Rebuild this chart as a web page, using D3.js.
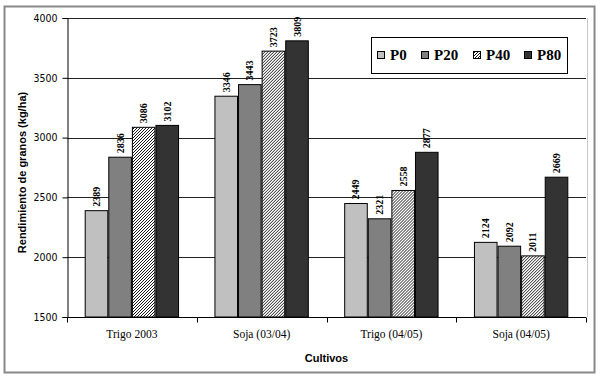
<!DOCTYPE html>
<html><head><meta charset="utf-8">
<script src="https://cdn.jsdelivr.net/npm/d3@7"></script>
<style>body{margin:0;background:#fff}svg{display:block}</style>
</head><body>
<svg id="c" width="600" height="378"></svg>
<script>
const categories = ["Trigo 2003", "Soja (03/04)", "Trigo (04/05)", "Soja (04/05)"];
const seriesNames = ["P0", "P20", "P40", "P80"];
const P0  = [2389, 3346, 2449, 2124];
const P20 = [2836, 3443, 2321, 2092];
const P40 = [3086, 3723, 2558, 2011];
const P80 = [3102, 3809, 2877, 2669];
const yTicks = [1500, 2000, 2500, 3000, 3500, 4000];
const seriesValues = [P0, P20, P40, P80];
const fills = ["#c0c0c0", "#808080", "url(#hatch)", "#333333"];

const svg = d3.select("#c");
const defs = svg.append("defs");
const pat = defs.append("pattern").attr("id","hatch").attr("patternUnits","userSpaceOnUse")
  .attr("width",3).attr("height",3);
pat.append("rect").attr("width",3).attr("height",3).attr("fill","#fff");
pat.append("path").attr("d","M-1,1 l2,-2 M0,3 l3,-3 M2,4 l2,-2").attr("stroke","#000").attr("stroke-width",0.9);

// outer border
svg.append("rect").attr("x",4.5).attr("y",6.5).attr("width",590).attr("height",366)
  .attr("fill","#fff").attr("stroke","#888").attr("stroke-width",2);

const L = 67, R = 586, T = 18, B = 317;
const x = d3.scaleBand().domain(categories).range([L, R]).padding(0);
const bw = x.bandwidth();
const gap = bw * 1.5 / 5.5;
const x1 = d3.scaleBand().domain(seriesNames).range([gap/2, bw - gap/2]).padding(0);
const y = d3.scaleLinear().domain([1500, 4000]).range([B, T]);

// plot area right border
svg.append("line").attr("x1",R+1.5).attr("x2",R+1.5).attr("y1",T).attr("y2",B).attr("stroke","#c8c8c8");

// gridlines
svg.append("g").selectAll("line").data(yTicks.slice(1)).join("line")
  .attr("x1",L).attr("x2",R).attr("y1",d=>Math.round(y(d))+0.5).attr("y2",d=>Math.round(y(d))+0.5)
  .attr("stroke","#222").attr("stroke-width",1);

// bars
const rows = categories.map((c,i)=>({c, vals: seriesNames.map((s,j)=>({s, j, v: seriesValues[j][i]}))}));
const g = svg.append("g").selectAll("g").data(rows).join("g").attr("transform",d=>`translate(${x(d.c)},0)`);
g.selectAll("rect").data(d=>d.vals).join("rect")
  .attr("x",d=>x1(d.s)+0.5).attr("y",d=>y(d.v)).attr("width",x1.bandwidth()-1).attr("height",d=>B-y(d.v))
  .attr("fill",d=>fills[d.j]).attr("stroke","#000").attr("stroke-width",1);
g.selectAll("text").data(d=>d.vals).join("text")
  .attr("transform",d=>`translate(${x1(d.s)+x1.bandwidth()/2+3.5},${y(d.v)-4}) rotate(-90)`)
  .attr("font-family","Liberation Serif, Times New Roman, serif").attr("font-weight","bold")
  .attr("font-size",10).attr("fill","#000").text(d=>d.v);

// y axis
const yAxis = d3.axisLeft(y).tickValues(yTicks).tickSize(5).tickPadding(5).tickFormat(d3.format("d"));
const ya = svg.append("g").attr("transform",`translate(${L+0.5},0)`).call(yAxis);
ya.select(".domain").attr("stroke","#000");
ya.selectAll(".tick line").attr("stroke","#000");
ya.selectAll("text").attr("font-family","DejaVu Sans, Verdana, sans-serif").attr("font-size",10.5).attr("fill","#000")
  .attr("textLength",24).attr("lengthAdjust","spacingAndGlyphs");

// x axis
const xa = svg.append("g").attr("transform",`translate(0,${B+0.5})`);
xa.append("line").attr("x1",L).attr("x2",R).attr("stroke","#000");
const bounds = categories.map(c=>x(c)).concat([R]);
xa.selectAll("line.t").data(bounds).join("line").attr("class","t")
  .attr("x1",d=>Math.round(d)+0.5).attr("x2",d=>Math.round(d)+0.5).attr("y1",0).attr("y2",5).attr("stroke","#000");
xa.selectAll("text").data(categories).join("text")
  .attr("x",d=>x(d)+bw/2).attr("y",20).attr("text-anchor","middle")
  .attr("font-family","Liberation Serif, Times New Roman, serif").attr("font-size",11.5).attr("fill","#000").text(d=>d);

// axis titles
svg.append("text").attr("x",(L+R)/2).attr("y",362).attr("text-anchor","middle")
  .attr("font-family","Liberation Sans, Arial, sans-serif").attr("font-weight","bold").attr("font-size",11).text("Cultivos");
svg.append("text").attr("transform",`translate(26,${(T+B)/2+5}) rotate(-90)`).attr("text-anchor","middle")
  .attr("font-family","Liberation Sans, Arial, sans-serif").attr("font-weight","bold").attr("font-size",11)
  .text("Rendimiento de granos (kg/ha)");

// legend
const lg = svg.append("g");
lg.append("rect").attr("x",371.5).attr("y",37.5).attr("width",196).attr("height",36).attr("fill","#fff").attr("stroke","#000");
const lx = [377, 421, 473, 524];
const li = lg.selectAll("g").data(seriesNames).join("g").attr("transform",(d,i)=>`translate(${lx[i]},0)`);
li.append("rect").attr("x",0.5).attr("y",51.5).attr("width",7).attr("height",7)
  .attr("fill",(d,i)=>fills[i]).attr("stroke","#000");
li.append("text").attr("x",13).attr("y",60).attr("font-family","Liberation Serif, Times New Roman, serif")
  .attr("font-weight","bold").attr("font-size",15).text(d=>d);
</script>
</body></html>
